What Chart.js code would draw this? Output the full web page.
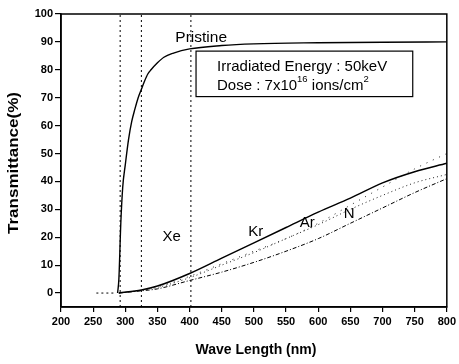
<!DOCTYPE html>
<html>
<head>
<meta charset="utf-8">
<script src="https://cdn.jsdelivr.net/npm/chart.js@4"></script>
<style>
html,body{margin:0;padding:0;background:#fff;}
#wrap{width:459px;height:364px;position:relative;}
</style>
</head>
<body>
<div id="wrap"><canvas id="c" width="459" height="364"></canvas></div>
<script>
// ---- data ----
const xTicks = [200,250,300,350,400,450,500,550,600,650,700,750,800];
const yTicks = [0,10,20,30,40,50,60,70,80,90,100];

const pristineWl = [288,290,293,296,300,305,310,315,320,325,330,335,340,350,360,375,400,450,500,600,700,800];
const pristineT  = [0,5,25,38,46,55,61.5,66,70,73,76,78.5,80,82.5,84.5,86,87.5,88.7,89.3,89.7,89.9,90];

const irrWl = [290,325,350,400,450,500,550,600,650,700,750,800];
const krT   = [0,1.1,2.5,7,12.5,18,23.5,29,34,39.5,43.5,46.5];
const xeT   = [0,1.0,2.2,6,10.5,15,19.5,25,31.5,38,44.5,50];
const arT   = [0,1.0,2.0,5.5,10,14.5,19.5,24.5,30,35,39.5,42.5];
const nT    = [0,0.8,1.5,4.5,7.5,11,15,19.5,25,30.5,36,41];

const guideWl = [292,325,402];
const zeroDashWl = [255,285];

const curveLabels = ["Pristine","Xe","Kr","Ar","N"];
const curveLabelWl = [418,372,503,583,648];
const curveLabelT  = [91.5,20,22,25,28.5];

const boxText1 = "Irradiated Energy : 50keV";
const boxText2 = ["Dose : 7x10","16"," ions/cm","2"];
const xTitle = "Wave Length (nm)";
const yTitle = "Transmittance(%)";

// ---- build datasets ----
function pts(xs, ys){ return xs.map((x,i)=>({x:x,y:ys[i]})); }
const datasets = [
  {data:pts(pristineWl,pristineT), borderColor:'#000', borderWidth:1.4, cubicInterpolationMode:'monotone'},
  {data:pts(irrWl,krT), borderColor:'#000', borderWidth:1.5, cubicInterpolationMode:'monotone'},
  {data:pts(irrWl,xeT), borderColor:'#222', borderWidth:1, borderDash:[1,6], cubicInterpolationMode:'monotone'},
  {data:pts(irrWl,arT), borderColor:'#222', borderWidth:1, borderDash:[1,3], cubicInterpolationMode:'monotone'},
  {data:pts(irrWl,nT), borderColor:'#000', borderWidth:1, borderDash:[4,2,1,2], cubicInterpolationMode:'monotone'},
];
guideWl.forEach(w=>{
  datasets.push({data:[{x:w,y:-5},{x:w,y:100}], borderColor:'#000', borderWidth:1, borderDash:[2,3]});
});
datasets.push({data:[{x:zeroDashWl[0],y:0},{x:zeroDashWl[1],y:0}], borderColor:'#000', borderWidth:1, borderDash:[2,3]});
datasets.forEach(d=>{d.pointRadius=0; d.fill=false; d.showLine=true;});

const FONT = '"Liberation Sans", Arial, sans-serif';

const deco = {
  id:'deco',
  afterDraw(chart){
    const ctx = chart.ctx, a = chart.chartArea;
    const xs = chart.scales.x, ys = chart.scales.y;
    ctx.save();
    // frame
    ctx.strokeStyle='#000'; ctx.lineWidth=1.5;
    ctx.strokeRect(a.left, a.top, a.right-a.left, a.bottom-a.top);
    // curve labels
    ctx.fillStyle='#000';
    ctx.textAlign='center'; ctx.textBaseline='middle';
    curveLabels.forEach((t,i)=>{
      ctx.font = (i===0? '15.5px ':'15px ') + FONT;
      ctx.fillText(t, xs.getPixelForValue(curveLabelWl[i]), ys.getPixelForValue(curveLabelT[i]));
    });
    // info box
    const bx0 = xs.getPixelForValue(410), bx1 = xs.getPixelForValue(747);
    const by0 = ys.getPixelForValue(86.7), by1 = ys.getPixelForValue(70.4);
    ctx.fillStyle='#fff';
    ctx.fillRect(bx0,by0,bx1-bx0,by1-by0);
    ctx.lineWidth=1.2; ctx.strokeStyle='#000';
    ctx.strokeRect(bx0,by0,bx1-bx0,by1-by0);
    ctx.fillStyle='#000';
    ctx.textAlign='left'; ctx.textBaseline='alphabetic';
    ctx.font='15px '+FONT;
    const tx = bx0+21;
    ctx.fillText(boxText1, tx, by0+20);
    let x = tx, yb = by0+39;
    boxText2.forEach((s,i)=>{
      if(i%2===1){ ctx.font='9.5px '+FONT; ctx.fillText(s,x,yb-8); }
      else { ctx.font='15px '+FONT; ctx.fillText(s,x,yb); }
      x += ctx.measureText(s).width;
    });
    // axis titles
    ctx.font='bold 14px '+FONT;
    ctx.textAlign='center'; ctx.textBaseline='middle';
    ctx.fillText(xTitle, 256, 350);
    ctx.translate(14,163); ctx.rotate(-Math.PI/2);
    const w = ctx.measureText(yTitle).width;
    ctx.scale(142/w, 1);
    ctx.fillText(yTitle, 0, 0);
    ctx.restore();
  }
};

new Chart(document.getElementById('c'), {
  type:'scatter',
  data:{datasets:datasets},
  options:{
    responsive:false, animation:false, devicePixelRatio:1,
    layout:{padding:{left:0,right:10,top:14,bottom:0}},
    plugins:{legend:{display:false}, tooltip:{enabled:false}},
    scales:{
      x:{
        type:'linear', min:200, max:800,
        afterBuildTicks(s){ s.ticks = xTicks.map(v=>({value:v})); },
        afterFit(s){ s.height = 57; },
        grid:{drawOnChartArea:false, tickLength:5, color:'#000', lineWidth:1.2},
        border:{color:'#000', width:1.5},
        ticks:{color:'#000', padding:3, font:{family:FONT, size:11, weight:'bold'}, maxRotation:0, autoSkip:false}
      },
      y:{
        type:'linear', min:-5, max:100,
        afterBuildTicks(s){ s.ticks = yTicks.map(v=>({value:v})); },
        afterFit(s){ s.width = 61; },
        grid:{drawOnChartArea:false, tickLength:6, color:'#000', lineWidth:1.2},
        border:{color:'#000', width:1.5},
        ticks:{color:'#000', padding:2, font:{family:FONT, size:11, weight:'bold'}, autoSkip:false}
      }
    }
  },
  plugins:[deco]
});
</script>
</body>
</html>
